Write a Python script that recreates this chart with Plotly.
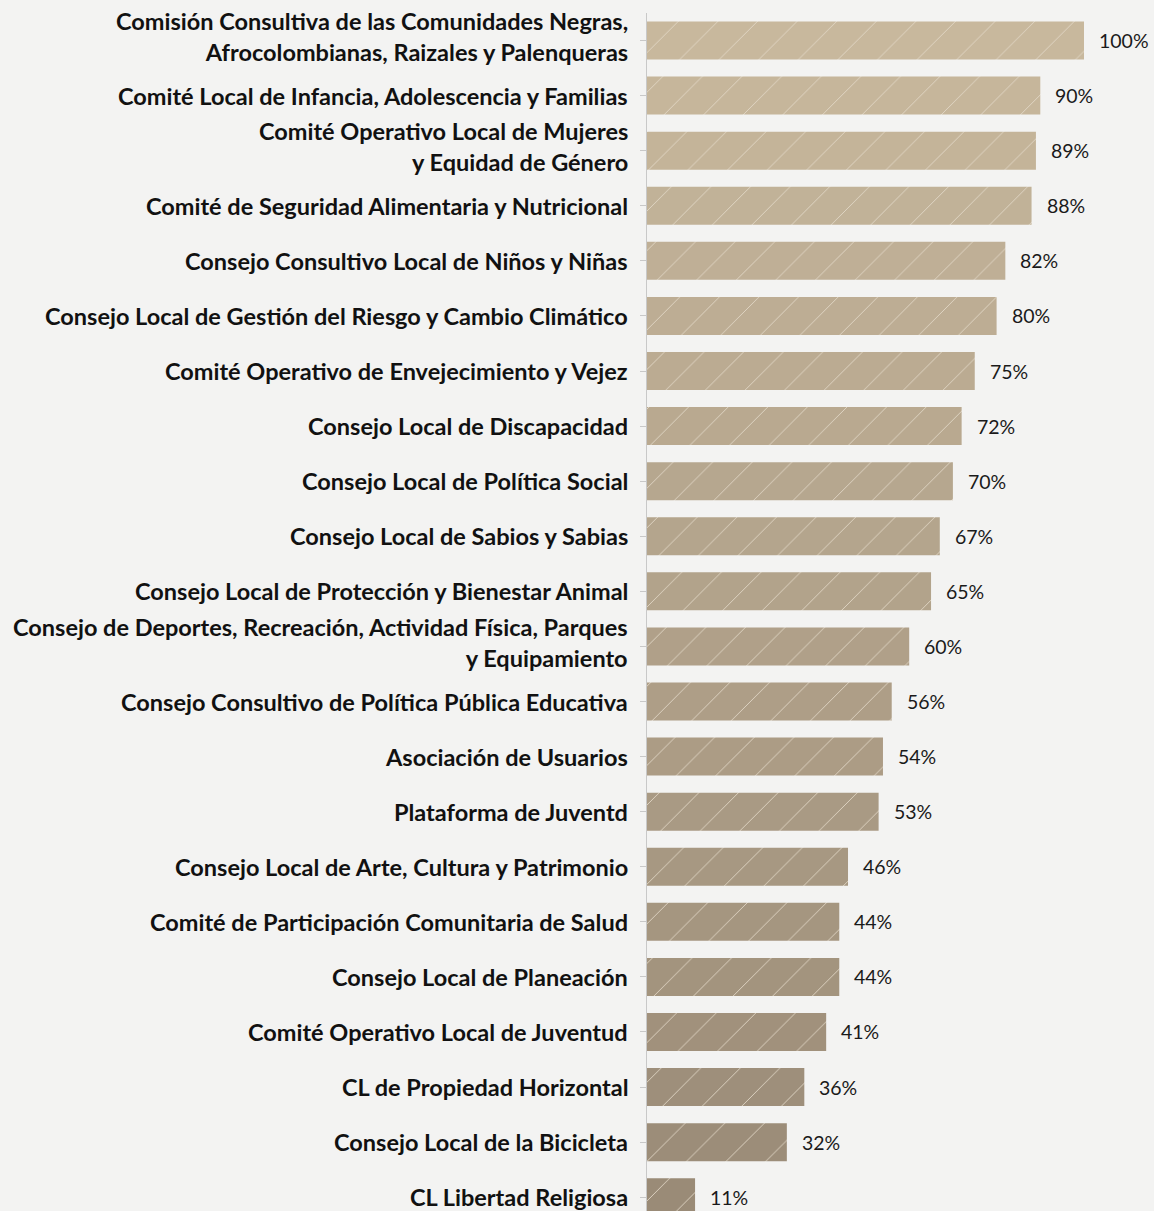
import plotly.graph_objects as go

categories = [
    "Comisión Consultiva de las Comunidades Negras,<br>Afrocolombianas, Raizales y Palenqueras",
    "Comité Local de Infancia, Adolescencia y Familias",
    "Comité Operativo Local de Mujeres<br>y Equidad de Género",
    "Comité de Seguridad Alimentaria y Nutricional",
    "Consejo Consultivo Local de Niños y Niñas",
    "Consejo Local de Gestión del Riesgo y Cambio Climático",
    "Comité Operativo de Envejecimiento y Vejez",
    "Consejo Local de Discapacidad",
    "Consejo Local de Política Social",
    "Consejo Local de Sabios y Sabias",
    "Consejo Local de Protección y Bienestar Animal",
    "Consejo de Deportes, Recreación, Actividad Física, Parques<br>y Equipamiento",
    "Consejo Consultivo de Política Pública Educativa",
    "Asociación de Usuarios",
    "Plataforma de Juventd",
    "Consejo Local de Arte, Cultura y Patrimonio",
    "Comité de Participación Comunitaria de Salud",
    "Consejo Local de Planeación",
    "Comité Operativo Local de Juventud",
    "CL de Propiedad Horizontal",
    "Consejo Local de la Bicicleta",
    "CL Libertad Religiosa",
]
values = [100, 90, 89, 88, 82, 80, 75, 72, 70, 67, 65, 60, 56, 54, 53, 46, 44, 44, 41, 36, 32, 11]
value_labels = [f"{v}%" for v in values]

n = len(values)
positions = list(range(n))

# gradient of bar colours from top (light tan) to bottom (darker taupe)
top_rgb = (200, 184, 157)
bot_rgb = (154, 139, 119)
colors = []
for i in range(n):
    t = i / (n - 1)
    c = tuple(round(top_rgb[k] + (bot_rgb[k] - top_rgb[k]) * t) for k in range(3))
    colors.append(f"rgb({c[0]},{c[1]},{c[2]})")

LABEL_FONT = dict(family="Lato, Open Sans, sans-serif", size=23.5, color="#111111", weight="bold")
VALUE_FONT = dict(family="Lato, Open Sans, sans-serif", size=19.5, color="#1a1a1a")

fig = go.Figure()
fig.add_trace(go.Bar(
    x=values,
    y=positions,
    orientation="h",
    width=0.69,
    marker=dict(
        color="rgb(180,166,142)",
        line=dict(width=0),
        pattern=dict(shape="/", fillmode="replace", bgcolor=colors, fgcolor="#e2d8c6",
                     fgopacity=0.9, size=28, solidity=0.035),
    ),
    hoverinfo="skip",
))

for v, p, lab in zip(values, positions, value_labels):
    fig.add_annotation(
        x=v, y=p, text=lab, showarrow=False, xanchor="left", xshift=13,
        font=VALUE_FONT,
    )

for p, lab in zip(positions, categories):
    off = -0.08 if "<br>" in lab else 0.0
    fig.add_annotation(
        xref="paper", x=0, y=p + off, text=lab, showarrow=False,
        xanchor="right", yanchor="middle", xshift=-17, align="right",
        font=LABEL_FONT,
    )

fig.update_layout(
    width=1154, height=1211,
    margin=dict(l=647, r=0, t=13, b=0, pad=0),
    paper_bgcolor="#f3f3f2",
    plot_bgcolor="#f3f3f2",
    showlegend=False,
    bargap=0.31,
)
fig.update_xaxes(
    range=[0, (1154 - 647) / 4.37],
    visible=False,
    showgrid=False,
    zeroline=False,
)
fig.update_yaxes(
    range=[21.25, -0.5],
    tickvals=positions,
    ticktext=["" for _ in positions],
    tickson="boundaries",
    ticks="outside",
    ticklen=6,
    tickcolor="#c8c8c8",
    showline=True,
    linecolor="#c8c8c8",
    linewidth=1,
    showgrid=False,
    zeroline=False,
)

fig.write_html("out.html", config={"displayModeBar": False},
               post_script="document.body.style.margin='0';")
